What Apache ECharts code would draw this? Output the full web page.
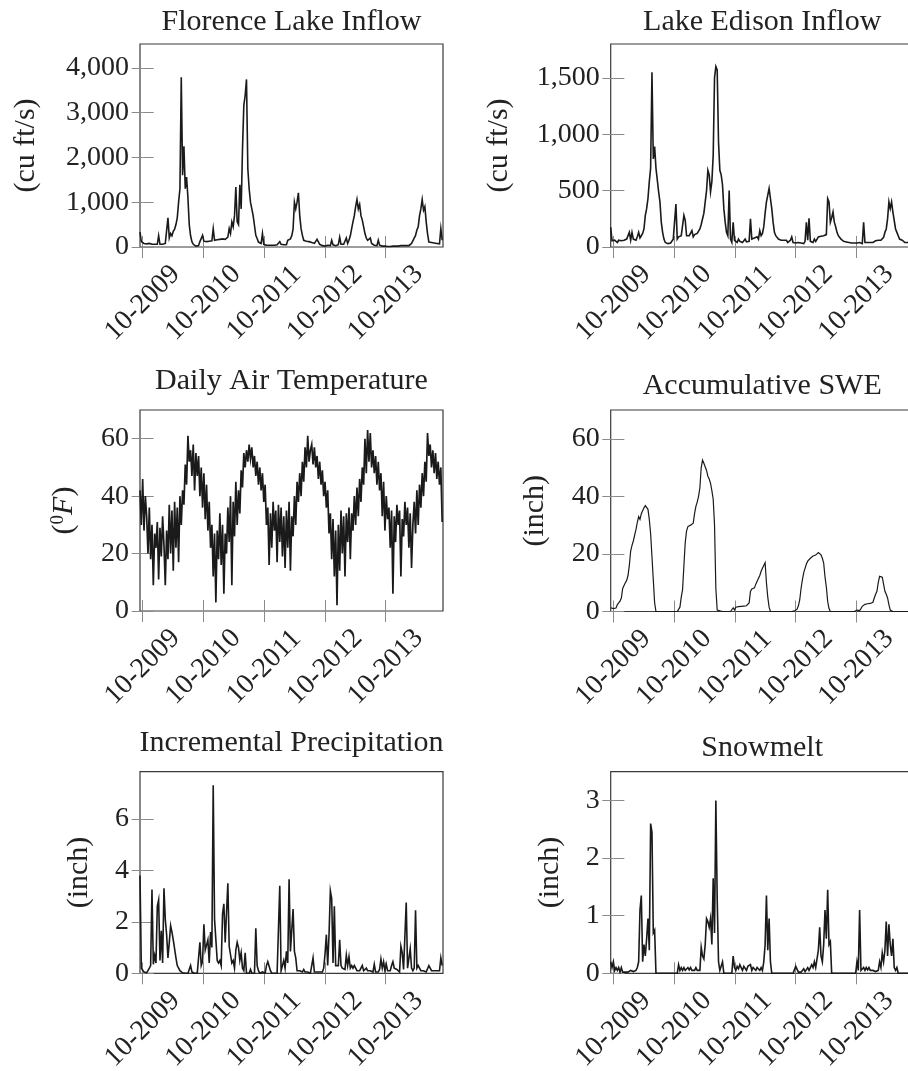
<!DOCTYPE html>
<html>
<head>
<meta charset="utf-8">
<title>Hydrology panels</title>
<script src="https://cdn.jsdelivr.net/npm/echarts@6.0.0/dist/echarts.min.js"></script>
<style>
  html, body { margin: 0; padding: 0; background: #fff; }
  #chart { width: 908px; height: 1071px; }
</style>
</head>
<body>
<div id="chart"></div>
<script>
// x axis: days since 10-2009, one sample every 8 days
const dayStart = -16
const dayStep = 8
const tickDays = [0, 365, 730, 1095, 1460]
const tickLabels = ['10-2009', '10-2010', '10-2011', '10-2012', '10-2013']

// Florence Lake inflow (cu ft/s)
const florenceInflow = [
  330, 120, 90, 80, 70, 70, 60, 80, 70, 60,
  70, 60, 50, 60, 250, 60, 70, 60, 70, 80,
  120, 650, 200, 300, 250, 350, 400, 500, 650, 1000,
  1300, 3790, 1600, 2250, 1300, 1560, 1100, 500, 250, 120,
  60, 30, 20, 40, 30, 120, 150, 260, 130, 140,
  120, 150, 130, 170, 140, 410, 150, 170, 160, 150,
  170, 160, 180, 190, 170, 200, 220, 410, 300, 560,
  450, 700, 1340, 560, 500, 1390, 850, 2190, 3160, 3380,
  3740, 1750, 1300, 1000, 850, 700, 480, 260, 190, 110,
  100, 80, 300, 60, 50, 40, 30, 40, 30, 40,
  30, 40, 30, 50, 40, 120, 60, 40, 50, 90,
  50, 150, 120, 180, 250, 400, 1000, 850, 1000, 1210,
  700, 410, 260, 150, 110, 130, 100, 120, 90, 100,
  120, 80, 100, 170, 200, 60, 40, 30, 50, 20,
  30, 40, 20, 30, 150, 50, 40, 30, 60, 50,
  220, 60, 40, 60, 100, 200, 80, 150, 250, 410,
  560, 700, 900, 1060, 850, 950, 700, 600, 560, 300,
  200, 150, 110, 200, 80, 60, 40, 60, 30, 150,
  40, 30, 20, 30, 20, 20, 10, 20, 10, 20,
  20, 10, 20, 10, 20, 20, 30, 20, 30, 20,
  30, 40, 30, 60, 80, 100, 200, 260, 380, 450,
  700, 850, 1060, 820, 900, 560, 300, 110, 150, 100,
  120, 90, 110, 80, 100, 70, 410, 150
]

// Lake Edison inflow (cu ft/s)
const edisonInflow = [
  175, 55, 40, 60, 50, 40, 60, 45, 55, 40,
  60, 50, 70, 55, 130, 60, 130, 70, 80, 60,
  90, 130, 80, 100, 120, 160, 280, 340, 430, 580,
  700, 1550, 780, 890, 700, 710, 490, 400, 220, 130,
  70, 40, 35, 30, 40, 35, 50, 70, 60, 380,
  70, 90, 80, 100, 90, 280, 235, 100, 90, 100,
  95, 145, 90, 110, 100, 120, 110, 160, 200, 250,
  300, 400, 500, 680, 640, 490, 580, 810, 1500, 1600,
  1570, 930, 680, 640, 550, 340, 220, 130, 100, 500,
  70, 40, 220, 60, 50, 40, 70, 50, 60, 40,
  55, 70, 45, 60, 50, 250, 70, 60, 80, 70,
  90, 70, 145, 100, 120, 180, 300, 400, 460, 520,
  430, 340, 220, 130, 100, 90, 70, 80, 60, 50,
  60, 45, 60, 40, 50, 60, 90, 40, 30, 35,
  30, 40, 30, 35, 40, 30, 50, 220, 60, 255,
  50, 60, 40, 70, 50, 60, 90, 95, 95, 100,
  100, 105, 110, 430, 400, 220, 260, 310, 220, 180,
  130, 100, 85, 70, 55, 50, 40, 45, 35, 40,
  30, 35, 30, 35, 30, 35, 30, 40, 35, 30,
  220, 40, 35, 40, 35, 40, 45, 40, 50, 55,
  50, 60, 70, 60, 70, 85, 130, 160, 250, 400,
  340, 400, 310, 295, 160, 130, 100, 70, 80, 60,
  50, 40, 50, 40, 50, 40, 45, 40
]

// daily air temperature (F)
const airTemp = [
  42, 30, 46, 28, 40, 33, 20, 36, 18, 30,
  9, 27, 22, 31, 11, 29, 19, 33, 23, 9,
  28, 18, 37, 20, 35, 14, 38, 22, 36, 17,
  40, 30, 42, 37, 51, 44, 61, 52, 56, 47,
  58, 42, 55, 47, 54, 40, 50, 36, 48, 32,
  44, 28, 38, 22, 30, 12, 27, 3, 28, 18,
  34, 16, 30, 6, 27, 20, 36, 24, 40, 9,
  38, 26, 45, 30, 42, 34, 49, 43, 55, 50,
  56, 52, 58, 53, 57, 50, 54, 47, 52, 44,
  50, 42, 48, 38, 44, 30, 36, 16, 34, 22,
  38, 28, 35, 17, 37, 24, 36, 19, 33, 15,
  35, 22, 38, 14, 33, 26, 40, 30, 45, 38,
  48, 40, 52, 45, 57, 50, 61, 52, 56, 58,
  51, 57, 50, 54, 46, 52, 44, 49, 40, 45,
  36, 42, 27, 34, 18, 32, 12, 28, 2, 30,
  14, 35, 20, 33, 12, 34, 24, 36, 18, 34,
  28, 40, 30, 43, 33, 46, 38, 50, 44, 60,
  48, 63, 52, 62, 50, 56, 48, 54, 44, 52,
  42, 48, 33, 45, 28, 40, 32, 36, 22, 35,
  6, 33, 24, 37, 30, 35, 12, 32, 26, 38,
  30, 36, 22, 34, 15, 30, 38, 27, 42, 30,
  44, 36, 48, 40, 52, 45, 62, 54, 58, 50,
  56, 48, 55, 46, 52, 44, 50, 31
]

// accumulative snow water equivalent (inch)
const swe = [
  1.3, 1.5, 1.0, 0.8, 1.2, 2.4, 3.0, 3.6, 4.7, 8.0,
  9.0, 10.0, 10.8, 12.5, 16.0, 21.0, 23.0, 24.5, 26.5, 28.5,
  31.0, 33.0, 32.0, 34.0, 35.0, 36.0, 36.8, 36.5, 35.5, 32.0,
  27.0, 19.0, 11.0, 3.0, 0, 0, 0, 0, 0, 0,
  0, 0, 0, 0, 0, 0, 0, 0, 0, 0,
  0, 0.3, 1.5, 5.0, 7.6, 16.0, 24.0, 28.0, 29.5, 29.8,
  30.0, 30.2, 30.7, 34.0, 36.5, 38.0, 40.0, 43.0, 50.0, 52.6,
  51.5, 51.0, 49.0, 47.0, 46.0, 44.5, 42.0, 39.0, 30.0, 8.0,
  0.5, 0.3, 0.2, 0, 0, 0, 0, 0, 0, 0,
  0, 0, 1.3, 0.5, 1.5, 1.6, 1.7, 1.8, 1.8, 1.9,
  1.9, 2.0, 2.0, 2.1, 3.0, 7.0, 7.8, 8.0, 8.2, 9.5,
  10.5, 11.0, 12.5, 14.0, 15.0, 16.0, 17.0, 10.0, 5.0, 1.5,
  0, 0, 0, 0, 0, 0, 0, 0, 0, 0,
  0, 0, 0, 0, 0, 0, 0, 0, 0.2, 0.7,
  0.8, 2.0, 4.0, 8.0, 11.0, 13.5, 15.0, 16.5, 17.5, 18.0,
  18.5, 19.0, 19.3, 19.4, 19.6, 19.7, 20.5, 21.0, 19.7, 18.5,
  16.8, 12.0, 8.5, 3.5, 1.0, 0, 0, 0, 0, 0,
  0, 0, 0, 0, 0, 0, 0, 0, 0, 0,
  0, 0, 0, 0, 0, 0.5, 0.7, 0.3, 1.0, 1.8,
  2.4, 2.5, 2.6, 2.7, 2.8, 2.8, 2.9, 3.2, 4.7, 6.0,
  7.0, 10.0, 12.2, 11.7, 11.9, 9.5, 7.0, 6.0, 4.7, 2.4,
  0.5, 0, 0, 0, 0, 0, 0, 0, 0, 0,
  0, 0, 0, 0, 0, 0, 0, 0
]

// incremental precipitation (inch)
const precip = [
  3.8, 0.2, 0.15, 0.05, 0, 0.02, 0.05, 0.2, 0.3, 3.25,
  0.35, 0.7, 0.4, 2.6, 2.85, 0.5, 1.65, 0.4, 3.3, 2.1,
  1.5, 0.6, 1.2, 1.85, 1.6, 1.3, 0.95, 0.6, 0.3, 0.2,
  0.1, 0.05, 0.02, 0.05, 0, 0, 0, 0, 0.3, 0.05,
  0, 0, 0, 0, 0, 1.2, 0.3, 0.45, 1.9, 0.9,
  0.95, 1.3, 0.4, 1.6, 1.0, 7.3, 2.1, 2.15, 0.5, 0.4,
  0.5, 0.3, 2.3, 2.7, 1.2, 1.25, 3.5, 1.05, 1.0, 0.4,
  0.5, 0.2, 0.9, 1.2, 1.0, 0.5, 0.8, 0.2, 0.1, 0.8,
  0, 0, 0, 0.15, 0, 0, 0, 1.75, 0.3, 0.1,
  0, 0, 0.05, 0.1, 0, 0.3, 0.45, 0.45, 0.1, 0,
  0, 0, 0, 0, 0, 3.4, 0.1, 0.3, 0.5, 0.2,
  0.85, 0.4, 3.65, 0.85, 0.8, 2.5, 0.85, 0.6, 0.1, 0.15,
  0.1, 0.1, 0.05, 0.15, 0.05, 0, 0.05, 0, 0, 0,
  0.6, 0.05, 0, 0.05, 0, 0.05, 0, 0.05, 0.2, 0.75,
  1.5, 0.3, 1.5, 3.2, 2.9, 0.4, 2.6, 0.3, 0.3, 0.3,
  1.3, 0.3, 0.2, 0.2, 0.15, 0.7, 0.3, 0.65, 0.2, 0.3,
  0.2, 0.3, 0.25, 0.1, 0.1, 0.1, 0.1, 0.3, 0.1, 0.1,
  0.2, 0.1, 0.05, 0.1, 0.1, 0.05, 0.35, 0.05, 0.1, 0.05,
  0.15, 0.55, 0.2, 0.45, 0.1, 0.35, 0.1, 0.15, 0.1, 0.3,
  0.45, 0.2, 0.2, 0.15, 0.1, 0.05, 1.05, 0.8, 0.15, 0.2,
  2.75, 0.2, 0.15, 0.95, 0.2, 0.1, 0.2, 2.45, 0.2, 0.3,
  0.35, 0.1, 0.05, 0.1, 0.1, 0.05, 0.1, 0.3, 0.2, 0.1,
  0.05, 0.1, 0.05, 0.1, 0.05, 0.1, 0.6, 0.3
]

// snowmelt (inch)
const snowmelt = [
  0.2, 0.1, 0.2, 0.05, 0.1, 0.05, 0.1, 0.02, 0.1, 0.02,
  0.01, 0.02, 0.01, 0.02, 0.01, 0.05, 0.02, 0.03, 0.05, 0.05,
  0.1, 0.2, 1.1, 1.35, 0.2, 0.5, 0.3, 0.6, 0.95, 0.4,
  2.6, 2.45, 0.7, 0.75, 0, 0, 0, 0, 0, 0,
  0, 0, 0, 0, 0, 0, 0, 0, 0, 0,
  0, 0.15, 0.05, 0.1, 0.05, 0.1, 0.05, 0.08, 0.1, 0.06,
  0.1, 0.05, 0.08, 0.05, 0.1, 0.05, 0.02, 0.05, 0.45, 0.3,
  0.25, 0.5, 0.95, 0.9, 0.8, 0.95, 0.5, 1.65, 0.7, 3.0,
  1.3, 0.2, 0.05, 0.02, 0.2, 0, 0, 0, 0, 0,
  0, 0, 0.3, 0.1, 0.05, 0.12, 0.08, 0.15, 0.1, 0.05,
  0.12, 0.1, 0.05, 0.12, 0.1, 0.15, 0.05, 0.1, 0.12, 0.05,
  0.1, 0.08, 0.05, 0.1, 0.05, 0.2, 0.5, 1.35, 0.4, 0.95,
  0.2, 0, 0, 0, 0, 0, 0, 0, 0, 0,
  0, 0, 0, 0, 0, 0, 0, 0, 0, 0.12,
  0.1, 0.02, 0.05, 0.02, 0.05, 0.08, 0.03, 0.05, 0.1, 0.05,
  0.1, 0.15, 0.1, 0.2, 0.1, 0.25, 0.4, 0.8, 0.3, 0.2,
  0.5, 1.1, 0.6, 1.45, 0.5, 0.55, 0, 0, 0, 0,
  0, 0, 0, 0, 0, 0, 0, 0, 0, 0,
  0, 0, 0, 0, 0, 0.2, 0.05, 1.1, 0.05, 0.02,
  0.1, 0.05, 0.1, 0.06, 0.1, 0.05, 0.08, 0.05, 0.02, 0.03,
  0.05, 0.05, 0.2, 0.1, 0.35, 0.2, 0.4, 0.9, 0.3, 0.85,
  0.5, 0.3, 0.6, 0.1, 0.05, 0.1, 0, 0, 0, 0,
  0, 0, 0, 0, 0, 0, 0, 0
]

// y tick values per panel
const florenceTicks = [0, 1000, 2000, 3000, 4000]
const edisonTicks = [0, 500, 1000, 1500]
const tempTicks = [0, 20, 40, 60]
const sweTicks = [0, 20, 40, 60]
const precipTicks = [0, 2, 4, 6]
const snowmeltTicks = [0, 1, 2, 3]

const FONT = '"Liberation Serif", "Times New Roman", serif'
const TEXT = '#222'
const TICK = '#8a8a8a'

function withCommas (v) {
  return String(v).replace(/\B(?=(\d{3})+(?!\d))/g, ',')
}

function toPairs (vals) {
  return vals.map((v, i) => [dayStart + i * dayStep, v])
}

const panels = [
  { title: 'Florence Lake Inflow', data: florenceInflow, ticks: florenceTicks, max: 4530,
    left: 140, top: 44, height: 203, name: '(cu ft/s)', nameGap: 99, titleTop: 7, lw: 1.6 },
  { title: 'Lake Edison Inflow', data: edisonInflow, ticks: edisonTicks, max: 1800,
    left: 610.7, top: 44, height: 203, name: '(cu ft/s)', nameGap: 97, titleTop: 7, lw: 1.6 },
  { title: 'Daily Air Temperature', data: airTemp, ticks: tempTicks, max: 70,
    left: 140, top: 410, height: 201, name: '({sup|0}{it|F})', nameGap: 61, titleTop: 366.6, lw: 1.7 },
  { title: 'Accumulative SWE', data: swe, ticks: sweTicks, max: 70,
    left: 610.7, top: 410, height: 201.5, name: '(inch)', nameGap: 61, titleTop: 371.6, lw: 1.2 },
  { title: 'Incremental Precipitation', data: precip, ticks: precipTicks, max: 7.83,
    left: 140, top: 771.7, height: 201.6, name: '(inch)', nameGap: 46, titleTop: 728, lw: 1.6 },
  { title: 'Snowmelt', data: snowmelt, ticks: snowmeltTicks, max: 3.5,
    left: 610.7, top: 771.7, height: 201.6, name: '(inch)', nameGap: 46, titleTop: 733, lw: 1.6 }
]

const PLOT_W = 303

let option = {
  animation: false,
  backgroundColor: '#fff',
  title: [],
  grid: [],
  xAxis: [],
  yAxis: [],
  series: []
}

panels.forEach((p, k) => {
  option.title.push({
    text: p.title,
    left: p.left + PLOT_W / 2,
    top: p.titleTop,
    textAlign: 'center',
    padding: 0,
    textStyle: { fontFamily: FONT, fontSize: 30, fontWeight: 'normal', color: TEXT }
  })

  option.grid.push({
    left: p.left, top: p.top, width: PLOT_W, height: p.height,
    show: true, borderColor: '#3a3a3a', borderWidth: 1.2,
    outerBoundsMode: 'none', containLabel: false
  })

  const tickStyle = { inside: true, length: 11, lineStyle: { color: TICK, width: 1 } }

  // bottom axis: ticks + rotated date labels
  option.xAxis.push({
    type: 'value', gridIndex: k, min: dayStart, max: 1805, position: 'bottom',
    axisLine: { show: false }, splitLine: { show: false },
    axisTick: Object.assign({ customValues: tickDays }, tickStyle),
    axisLabel: {
      customValues: tickDays,
      formatter: (v) => tickLabels[tickDays.indexOf(v)],
      rotate: 45, align: 'center', verticalAlign: 'middle', margin: 56,
      fontFamily: FONT, fontSize: 28, color: TEXT
    }
  })
  // top axis: mirrored ticks only
  option.xAxis.push({
    type: 'value', gridIndex: k, min: dayStart, max: 1805, position: 'top',
    axisLine: { show: false }, splitLine: { show: false },
    axisTick: Object.assign({ customValues: tickDays }, tickStyle),
    axisLabel: { show: false }
  })

  // left axis with labels and name
  option.yAxis.push({
    type: 'value', gridIndex: k, min: 0, max: p.max, position: 'left',
    axisLine: { show: false }, splitLine: { show: false },
    axisTick: Object.assign({ customValues: p.ticks }, tickStyle),
    axisLabel: {
      customValues: p.ticks, formatter: withCommas, margin: 11,
      fontFamily: FONT, fontSize: 28, color: TEXT
    },
    name: p.name, nameLocation: 'middle', nameGap: p.nameGap,
    nameTextStyle: {
      fontFamily: FONT, fontSize: 30, color: TEXT,
      rich: {
        sup: { fontFamily: FONT, fontSize: 19, color: TEXT, verticalAlign: 'top' },
        it: { fontFamily: FONT, fontSize: 30, color: TEXT, fontStyle: 'italic' }
      }
    }
  })
  // right axis: mirrored ticks only
  option.yAxis.push({
    type: 'value', gridIndex: k, min: 0, max: p.max, position: 'right',
    axisLine: { show: false }, splitLine: { show: false },
    axisTick: Object.assign({ customValues: p.ticks }, tickStyle),
    axisLabel: { show: false }
  })

  option.series.push({
    type: 'line',
    xAxisIndex: 2 * k,
    yAxisIndex: 2 * k,
    data: toPairs(p.data),
    showSymbol: false,
    symbol: 'none',
    silent: true,
    lineStyle: { color: '#1a1a1a', width: p.lw, join: 'miter' }
  })
})

const chart = echarts.init(document.getElementById('chart'), null, { renderer: 'canvas' })
chart.setOption(option)
</script>
</body>
</html>
